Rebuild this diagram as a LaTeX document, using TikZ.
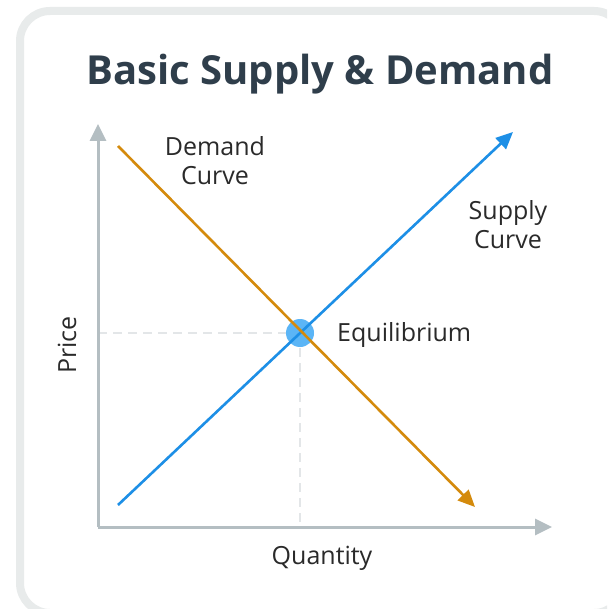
\documentclass[tikz,border=0pt]{standalone}
\usepackage{fontspec}
\setmainfont{Open Sans}
\usetikzlibrary{arrows.meta}
\definecolor{bordergray}{HTML}{E8EBEB}
\definecolor{axisgray}{HTML}{B4BEC2}
\definecolor{supplyblue}{HTML}{1D8FE6}
\definecolor{demandorange}{HTML}{D48A0C}
\definecolor{eqblue}{HTML}{5BB5F6}
\definecolor{titlecol}{HTML}{2F3E4B}
\definecolor{dashgray}{HTML}{E3E6E8}
\definecolor{labelcol}{HTML}{2A2A2A}
\tikzset{
  axisline/.style={draw=axisgray, line width=3pt, -{Triangle[length=17pt,width=16pt]}},
  curveline/.style={line width=2.6pt, -{Triangle[length=17pt,width=15pt]}},
  guide/.style={draw=dashgray, line width=1.8pt, dash pattern=on 9pt off 6pt},
  lbl/.style={font=\fontsize{25}{29}\selectfont, text=labelcol, inner sep=0pt, align=center},
}
\begin{document}
\begin{tikzpicture}[x=1pt,y=-1pt]
\useasboundingbox (0,0) rectangle (607,609);
\clip (0,0) rectangle (607,609);
\fill[white] (0,0) rectangle (607,609);
\draw[bordergray, line width=8pt, rounded corners=30pt] (20,11) rectangle (624,613);
% title
\node[font=\fontsize{40}{48}\bfseries, text=titlecol, inner sep=0pt] (title) at (320,74) {Basic Supply \& Demand};
% axes
\coordinate (origin) at (98,527);
\coordinate (ytip) at (98,124);
\coordinate (xtip) at (552,527);
\coordinate (eq) at (300,333);
\coordinate (eqy) at (98,333);
\coordinate (eqx) at (300,527);
\draw[guide] (eqy) -- (eq);
\draw[guide] (eq) -- (eqx);
\draw[axisline] (origin) -- (ytip);
\draw[axisline] (origin) -- (xtip);
% curves
\coordinate (s0) at (118,505);
\coordinate (s1) at (513,132);
\coordinate (d0) at (118,146);
\coordinate (d1) at (475,507);
\fill[eqblue] (eq) circle (14pt);
\draw[curveline, supplyblue] (s0) -- (s1);
\draw[curveline, demandorange] (d0) -- (d1);
% labels
\node[lbl] (dlabel) at (215,161) {Demand\\Curve};
\node[lbl] (slabel) at (508,225) {Supply\\Curve};
\node[lbl, anchor=west] (eqlabel) at (337,335) {Equilibrium};
\node[lbl] (qlabel) at (322,558) {Quantity};
\node[lbl, rotate=90] (plabel) at (67,345) {Price};
\end{tikzpicture}
\end{document}
